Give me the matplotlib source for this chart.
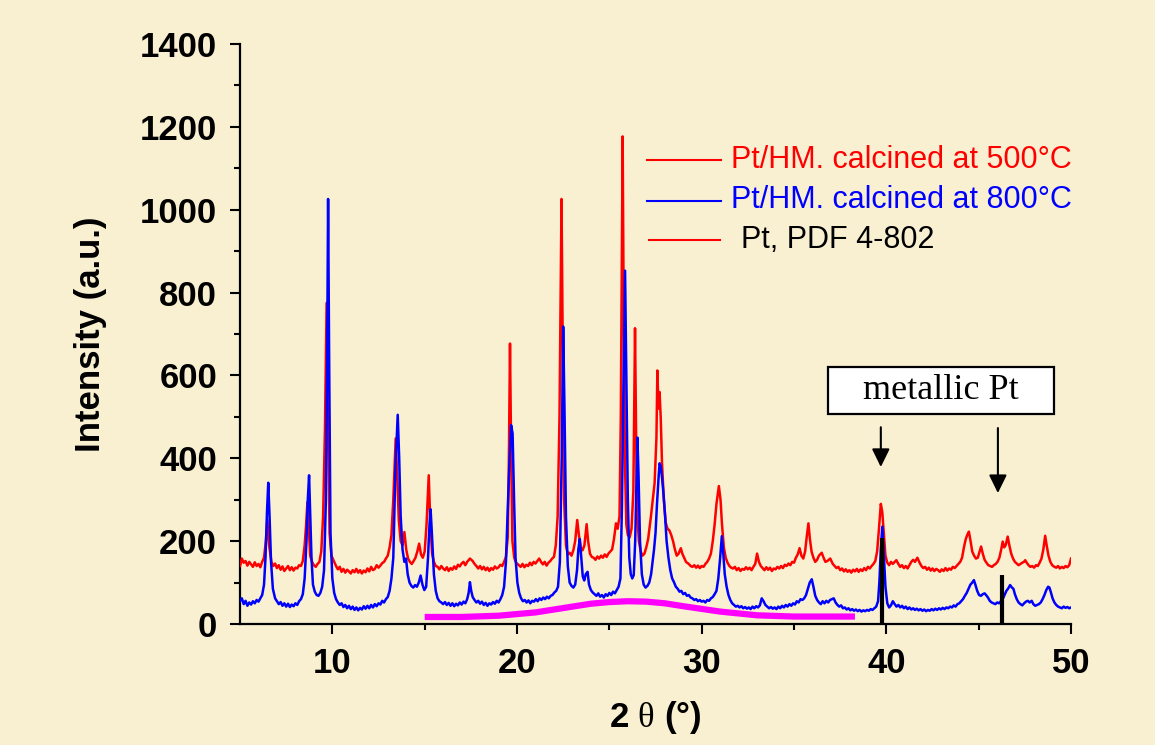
import matplotlib
matplotlib.use("Agg")
import matplotlib.pyplot as plt
from matplotlib.patches import Rectangle

plt.rcParams['font.family'] = ['Liberation Sans', 'DejaVu Sans']
plt.rcParams['mathtext.fontset'] = 'custom'
plt.rcParams['mathtext.rm'] = 'Liberation Serif'

# red pattern: Pt/HM calcined at 500 C, (2theta, intensity)
red_pts = [
    (5.0, 140), (5.1, 158), (5.2, 148), (5.3, 152), (5.4, 141), (5.5, 150), (5.6, 144), (5.7, 138),
    (5.8, 149), (5.9, 140), (6.0, 145), (6.1, 137), (6.2, 150), (6.3, 160), (6.4, 200), (6.48, 251),
    (6.56, 195), (6.7, 150), (6.8, 140), (6.9, 146), (7.0, 135), (7.1, 142), (7.2, 131), (7.3, 139),
    (7.4, 128), (7.5, 134), (7.6, 140), (7.7, 130), (7.8, 137), (7.9, 129), (8.0, 136), (8.1, 134),
    (8.2, 142), (8.3, 140), (8.4, 152), (8.5, 190), (8.58, 240), (8.65, 294), (8.72, 235), (8.8, 165),
    (8.9, 150), (9.0, 142), (9.1, 138), (9.2, 145), (9.3, 150), (9.4, 175), (9.5, 260), (9.6, 470),
    (9.69, 775), (9.76, 480), (9.85, 220), (9.95, 165), (10.1, 150), (10.2, 140), (10.3, 132),
    (10.4, 138), (10.5, 126), (10.6, 133), (10.7, 124), (10.8, 131), (10.9, 127), (11.0, 122),
    (11.1, 130), (11.2, 125), (11.3, 133), (11.4, 124), (11.5, 130), (11.6, 122), (11.7, 129),
    (11.8, 125), (11.9, 134), (12.0, 127), (12.1, 138), (12.2, 130), (12.3, 133), (12.4, 142),
    (12.5, 136), (12.6, 141), (12.7, 147), (12.8, 150), (12.9, 158), (13.0, 165), (13.1, 185),
    (13.2, 215), (13.3, 300), (13.43, 448), (13.52, 350), (13.6, 250), (13.7, 200), (13.8, 190),
    (13.9, 222), (14.0, 180), (14.1, 158), (14.2, 150), (14.3, 145), (14.4, 152), (14.5, 160),
    (14.6, 175), (14.7, 194), (14.8, 168), (14.9, 160), (15.0, 175), (15.1, 240), (15.22, 359),
    (15.3, 250), (15.4, 170), (15.5, 150), (15.6, 140), (15.7, 138), (15.8, 132), (15.9, 140),
    (16.0, 134), (16.1, 130), (16.2, 137), (16.3, 128), (16.4, 135), (16.5, 131), (16.6, 139),
    (16.7, 133), (16.8, 143), (16.9, 139), (17.0, 146), (17.1, 150), (17.2, 142), (17.3, 150),
    (17.45, 158), (17.6, 152), (17.7, 145), (17.8, 140), (17.9, 134), (18.0, 140), (18.1, 132),
    (18.2, 138), (18.3, 130), (18.4, 136), (18.5, 128), (18.6, 135), (18.7, 131), (18.8, 139),
    (18.9, 134), (19.0, 137), (19.1, 143), (19.2, 140), (19.3, 150), (19.4, 162), (19.5, 210),
    (19.56, 400), (19.62, 677), (19.68, 420), (19.75, 200), (19.85, 160), (19.95, 148), (20.1, 142),
    (20.2, 138), (20.3, 145), (20.4, 137), (20.5, 143), (20.6, 140), (20.7, 148), (20.8, 142),
    (20.9, 150), (21.0, 146), (21.1, 152), (21.2, 158), (21.3, 150), (21.4, 144), (21.5, 150),
    (21.6, 141), (21.7, 148), (21.8, 152), (21.9, 158), (22.0, 162), (22.1, 190), (22.2, 260),
    (22.3, 500), (22.36, 800), (22.41, 1026), (22.47, 700), (22.55, 300), (22.65, 190), (22.75, 168),
    (22.85, 172), (22.95, 165), (23.05, 178), (23.15, 200), (23.26, 251), (23.35, 215), (23.45, 185),
    (23.55, 178), (23.65, 190), (23.77, 241), (23.85, 200), (23.95, 170), (24.05, 162), (24.15, 160),
    (24.25, 155), (24.35, 163), (24.45, 158), (24.55, 165), (24.65, 160), (24.75, 168), (24.85, 162),
    (24.95, 170), (25.05, 175), (25.15, 180), (25.25, 205), (25.36, 243), (25.45, 230), (25.55, 260),
    (25.62, 500), (25.68, 900), (25.72, 1177), (25.77, 800), (25.84, 400), (25.92, 240), (26.0, 215),
    (26.1, 209), (26.2, 230), (26.3, 320), (26.39, 714), (26.45, 450), (26.52, 260), (26.6, 200),
    (26.7, 175), (26.8, 165), (26.9, 170), (27.0, 185), (27.1, 205), (27.25, 259), (27.35, 300),
    (27.45, 340), (27.55, 450), (27.6, 612), (27.66, 520), (27.72, 560), (27.78, 500), (27.85, 390),
    (27.95, 300), (28.05, 245), (28.15, 230), (28.25, 226), (28.35, 215), (28.45, 200), (28.55, 180),
    (28.65, 165), (28.75, 170), (28.87, 183), (28.95, 170), (29.05, 160), (29.15, 150), (29.3, 145),
    (29.4, 140), (29.5, 138), (29.6, 142), (29.7, 136), (29.8, 141), (29.9, 135), (30.0, 140),
    (30.1, 138), (30.2, 145), (30.3, 150), (30.4, 158), (30.5, 170), (30.6, 200), (30.7, 240),
    (30.8, 290), (30.93, 333), (31.02, 300), (31.1, 240), (31.2, 185), (31.3, 160), (31.4, 148),
    (31.5, 140), (31.6, 136), (31.7, 134), (31.8, 138), (31.9, 130), (32.0, 135), (32.1, 128),
    (32.2, 133), (32.3, 131), (32.4, 137), (32.5, 132), (32.6, 136), (32.7, 130), (32.8, 138),
    (32.9, 145), (33.0, 170), (33.1, 150), (33.2, 140), (33.3, 135), (33.4, 130), (33.5, 137),
    (33.6, 131), (33.7, 136), (33.8, 128), (33.9, 134), (34.0, 132), (34.1, 138), (34.2, 134),
    (34.3, 140), (34.4, 135), (34.5, 143), (34.6, 140), (34.7, 146), (34.8, 142), (34.9, 150),
    (35.0, 148), (35.1, 160), (35.2, 168), (35.3, 183), (35.4, 165), (35.5, 158), (35.6, 175),
    (35.7, 215), (35.78, 243), (35.86, 205), (35.95, 175), (36.05, 160), (36.15, 150), (36.25, 155),
    (36.35, 165), (36.5, 172), (36.6, 160), (36.7, 150), (36.8, 152), (36.96, 158), (37.1, 145),
    (37.2, 140), (37.3, 135), (37.4, 138), (37.5, 130), (37.6, 134), (37.7, 127), (37.8, 132),
    (37.9, 126), (38.0, 130), (38.1, 124), (38.2, 131), (38.3, 127), (38.4, 133), (38.5, 126),
    (38.6, 132), (38.7, 128), (38.8, 135), (38.9, 130), (39.0, 138), (39.1, 134), (39.2, 140),
    (39.3, 145), (39.4, 152), (39.5, 175), (39.6, 230), (39.7, 290), (39.78, 270), (39.86, 220),
    (39.95, 165), (40.05, 148), (40.15, 142), (40.25, 150), (40.35, 145), (40.45, 150), (40.54, 154),
    (40.65, 145), (40.75, 138), (40.85, 142), (40.95, 135), (41.05, 140), (41.15, 134), (41.25, 142),
    (41.35, 150), (41.45, 155), (41.55, 150), (41.68, 160), (41.8, 148), (41.9, 140), (42.0, 135),
    (42.1, 138), (42.2, 131), (42.3, 136), (42.4, 129), (42.5, 134), (42.6, 128), (42.7, 133),
    (42.8, 130), (42.9, 126), (43.0, 132), (43.1, 128), (43.2, 135), (43.3, 129), (43.4, 134),
    (43.5, 131), (43.6, 138), (43.7, 135), (43.8, 140), (43.9, 145), (44.0, 150), (44.1, 160),
    (44.2, 185), (44.3, 205), (44.38, 215), (44.47, 223), (44.56, 200), (44.65, 175), (44.75, 165),
    (44.85, 158), (44.95, 160), (45.05, 175), (45.13, 187), (45.22, 170), (45.32, 155), (45.42, 148),
    (45.52, 142), (45.62, 140), (45.72, 138), (45.82, 142), (45.92, 145), (46.02, 150), (46.12, 160),
    (46.22, 180), (46.3, 199), (46.38, 185), (46.46, 190), (46.57, 211), (46.66, 190), (46.76, 170),
    (46.86, 158), (46.96, 150), (47.06, 146), (47.16, 142), (47.26, 145), (47.36, 148), (47.45, 150),
    (47.52, 154), (47.6, 148), (47.7, 142), (47.8, 138), (47.9, 140), (48.0, 136), (48.1, 142),
    (48.2, 140), (48.3, 148), (48.4, 158), (48.5, 180), (48.6, 213), (48.68, 190), (48.78, 165),
    (48.88, 150), (48.98, 142), (49.1, 138), (49.2, 136), (49.3, 140), (49.4, 134), (49.5, 138),
    (49.6, 135), (49.7, 140), (49.8, 137), (49.9, 142), (50.0, 158),
]

# blue pattern: Pt/HM calcined at 800 C
blue_pts = [
    (5.0, 55), (5.1, 62), (5.2, 48), (5.3, 56), (5.4, 44), (5.5, 52), (5.6, 47), (5.7, 55), (5.8, 50),
    (5.9, 58), (6.0, 54), (6.1, 62), (6.2, 70), (6.3, 95), (6.38, 160), (6.46, 270), (6.53, 341),
    (6.6, 260), (6.68, 150), (6.78, 85), (6.9, 62), (7.0, 55), (7.1, 48), (7.2, 53), (7.3, 44),
    (7.4, 50), (7.5, 42), (7.6, 49), (7.7, 41), (7.8, 47), (7.9, 43), (8.0, 50), (8.1, 46), (8.2, 55),
    (8.3, 60), (8.4, 72), (8.5, 110), (8.6, 200), (8.67, 300), (8.74, 359), (8.8, 270), (8.87, 160),
    (8.95, 95), (9.05, 78), (9.15, 70), (9.25, 68), (9.35, 75), (9.45, 90), (9.55, 130), (9.65, 300),
    (9.72, 650), (9.77, 1026), (9.83, 620), (9.9, 220), (10.0, 110), (10.1, 75), (10.2, 60),
    (10.3, 52), (10.4, 46), (10.5, 50), (10.6, 41), (10.7, 46), (10.8, 38), (10.9, 44), (11.0, 36),
    (11.1, 42), (11.2, 34), (11.3, 40), (11.4, 33), (11.5, 39), (11.6, 35), (11.7, 43), (11.8, 37),
    (11.9, 44), (12.0, 38), (12.1, 46), (12.2, 40), (12.3, 48), (12.4, 43), (12.5, 50), (12.6, 47),
    (12.7, 56), (12.8, 52), (12.9, 60), (13.0, 65), (13.1, 80), (13.2, 110), (13.3, 160),
    (13.42, 380), (13.54, 505), (13.62, 400), (13.7, 260), (13.8, 180), (13.9, 150), (13.99, 158),
    (14.08, 120), (14.18, 100), (14.28, 92), (14.38, 88), (14.48, 94), (14.58, 90), (14.68, 100),
    (14.78, 117), (14.88, 95), (14.98, 82), (15.08, 90), (15.18, 160), (15.26, 240), (15.32, 277),
    (15.4, 210), (15.5, 120), (15.6, 80), (15.7, 62), (15.8, 55), (15.9, 52), (16.0, 48), (16.1, 53),
    (16.2, 46), (16.3, 51), (16.4, 44), (16.5, 50), (16.6, 43), (16.7, 49), (16.8, 45), (16.9, 52),
    (17.0, 47), (17.1, 54), (17.2, 50), (17.3, 60), (17.38, 75), (17.45, 101), (17.52, 80),
    (17.6, 65), (17.7, 58), (17.8, 52), (17.9, 56), (18.0, 49), (18.1, 54), (18.2, 46), (18.3, 51),
    (18.4, 44), (18.5, 50), (18.6, 47), (18.7, 53), (18.8, 49), (18.9, 56), (19.0, 52), (19.1, 60),
    (19.2, 70), (19.3, 90), (19.4, 150), (19.5, 280), (19.6, 400), (19.68, 480), (19.76, 460),
    (19.84, 300), (19.92, 160), (20.02, 100), (20.12, 75), (20.22, 62), (20.32, 55), (20.42, 58),
    (20.52, 52), (20.62, 57), (20.72, 50), (20.82, 56), (20.92, 54), (21.02, 60), (21.12, 55),
    (21.22, 62), (21.32, 58), (21.42, 64), (21.52, 60), (21.62, 66), (21.72, 62), (21.82, 68),
    (21.92, 70), (22.02, 76), (22.12, 80), (22.22, 90), (22.32, 150), (22.42, 400), (22.5, 718),
    (22.57, 520), (22.65, 260), (22.75, 140), (22.85, 100), (22.95, 92), (23.05, 88), (23.15, 95),
    (23.25, 130), (23.32, 180), (23.4, 205), (23.48, 160), (23.56, 115), (23.64, 105), (23.72, 120),
    (23.82, 126), (23.9, 95), (24.0, 82), (24.1, 76), (24.2, 72), (24.3, 68), (24.4, 74), (24.5, 66),
    (24.6, 70), (24.7, 64), (24.8, 72), (24.9, 68), (25.0, 75), (25.1, 70), (25.2, 78), (25.3, 74),
    (25.4, 82), (25.5, 90), (25.6, 110), (25.68, 280), (25.76, 560), (25.85, 853), (25.92, 600),
    (26.0, 300), (26.08, 160), (26.16, 120), (26.24, 110), (26.32, 118), (26.4, 200), (26.46, 330),
    (26.52, 450), (26.58, 360), (26.66, 200), (26.76, 120), (26.86, 95), (26.96, 88), (27.06, 92),
    (27.16, 100), (27.26, 120), (27.34, 150), (27.42, 180), (27.5, 220), (27.58, 290), (27.66, 350),
    (27.72, 388), (27.79, 380), (27.86, 350), (27.94, 310), (28.02, 260), (28.1, 200), (28.2, 160),
    (28.3, 130), (28.4, 110), (28.5, 101), (28.6, 90), (28.7, 85), (28.8, 78), (28.9, 80), (29.0, 72),
    (29.1, 75), (29.2, 68), (29.3, 70), (29.4, 64), (29.5, 62), (29.6, 58), (29.7, 60), (29.8, 55),
    (29.9, 58), (30.0, 54), (30.1, 56), (30.2, 52), (30.3, 58), (30.4, 56), (30.5, 62), (30.6, 65),
    (30.7, 72), (30.8, 80), (30.9, 110), (31.0, 160), (31.09, 212), (31.17, 170), (31.25, 120),
    (31.35, 90), (31.45, 70), (31.55, 58), (31.65, 50), (31.75, 46), (31.85, 42), (31.95, 44),
    (32.05, 40), (32.15, 43), (32.25, 38), (32.35, 41), (32.45, 37), (32.55, 40), (32.65, 36),
    (32.75, 42), (32.85, 38), (32.95, 43), (33.05, 40), (33.15, 45), (33.25, 62), (33.35, 55),
    (33.45, 46), (33.55, 42), (33.65, 38), (33.75, 41), (33.85, 37), (33.95, 40), (34.05, 36),
    (34.15, 42), (34.25, 38), (34.35, 44), (34.45, 40), (34.55, 46), (34.65, 42), (34.75, 48),
    (34.85, 44), (34.95, 50), (35.05, 47), (35.15, 55), (35.25, 52), (35.35, 60), (35.45, 58),
    (35.55, 62), (35.65, 70), (35.75, 85), (35.85, 100), (35.96, 108), (36.05, 90), (36.15, 68),
    (36.25, 58), (36.35, 52), (36.45, 48), (36.55, 55), (36.65, 50), (36.75, 56), (36.85, 52),
    (36.95, 58), (37.05, 60), (37.15, 62), (37.25, 52), (37.35, 46), (37.45, 42), (37.55, 45),
    (37.65, 38), (37.75, 40), (37.85, 35), (37.95, 38), (38.05, 33), (38.15, 36), (38.25, 32),
    (38.35, 35), (38.45, 31), (38.55, 34), (38.65, 30), (38.75, 33), (38.85, 31), (38.95, 34),
    (39.05, 32), (39.15, 36), (39.25, 34), (39.35, 38), (39.45, 42), (39.55, 55), (39.62, 100),
    (39.7, 180), (39.78, 235), (39.86, 170), (39.95, 90), (40.05, 50), (40.15, 40), (40.25, 45),
    (40.35, 55), (40.45, 48), (40.55, 42), (40.65, 46), (40.75, 40), (40.85, 44), (40.95, 38),
    (41.05, 42), (41.15, 36), (41.25, 40), (41.35, 35), (41.45, 38), (41.55, 34), (41.65, 37),
    (41.75, 33), (41.85, 36), (41.95, 32), (42.05, 35), (42.15, 31), (42.25, 34), (42.35, 32),
    (42.45, 36), (42.55, 33), (42.65, 37), (42.75, 34), (42.85, 38), (42.95, 35), (43.05, 39),
    (43.15, 36), (43.25, 40), (43.35, 38), (43.45, 42), (43.55, 40), (43.65, 45), (43.75, 42),
    (43.85, 48), (43.95, 50), (44.05, 55), (44.15, 60), (44.25, 68), (44.35, 75), (44.45, 85),
    (44.55, 95), (44.65, 100), (44.74, 106), (44.82, 95), (44.92, 80), (45.02, 70), (45.12, 68),
    (45.22, 72), (45.32, 74), (45.4, 70), (45.5, 64), (45.6, 56), (45.7, 52), (45.8, 50),
    (45.9, 48), (46.0, 52), (46.1, 50), (46.2, 55), (46.3, 60), (46.4, 70), (46.5, 80), (46.6, 86),
    (46.7, 94), (46.8, 88), (46.88, 85), (46.96, 72), (47.06, 60), (47.16, 52), (47.26, 48),
    (47.36, 45), (47.46, 50), (47.56, 54), (47.66, 56), (47.76, 52), (47.87, 56), (47.96, 48),
    (48.06, 44), (48.16, 46), (48.26, 48), (48.36, 52), (48.46, 60), (48.56, 70), (48.66, 82),
    (48.76, 90), (48.83, 88), (48.9, 78), (49.0, 62), (49.1, 52), (49.2, 46), (49.3, 42), (49.4, 40),
    (49.5, 38), (49.6, 42), (49.7, 39), (49.8, 41), (49.9, 38), (50.0, 40),
]

# amorphous hump
hump_x = [15, 17, 19, 21, 23, 24, 25, 26, 27, 28, 29, 31, 33, 35, 38.3]
hump_y = [17, 17, 20, 28, 42, 49, 53, 55, 54, 50, 43, 30, 21, 18, 18]

# Pt, PDF 4-802 reference lines
pt_pos = [39.76, 46.24]
pt_int = [207, 118]

red_x, red_y = zip(*red_pts)
blue_x, blue_y = zip(*blue_pts)

bg = '#F9F0D2'
fig = plt.figure(figsize=(11.55, 7.45), dpi=100, facecolor=bg)
ax = fig.add_axes([0.2078, 0.1624, 0.7195, 0.7785], facecolor=bg)

ax.plot(red_x, red_y, color='#FF0000', lw=1.8, zorder=3)
ax.plot(blue_x, blue_y, color='#0000FF', lw=1.8, zorder=4)
ax.plot(hump_x, hump_y, color='#FF00FF', lw=4.5, zorder=2, solid_capstyle='butt')
ax.vlines(pt_pos, 0, pt_int, color='k', lw=3, zorder=5)

ax.set_xlim(5, 50)
ax.set_ylim(0, 1400)
ax.set_xticks([10, 20, 30, 40, 50])
ax.set_xticks([15, 25, 35, 45], minor=True)
ax.set_yticks(range(0, 1401, 200))
ax.set_yticks(range(100, 1400, 200), minor=True)

for s in ['top', 'right']:
    ax.spines[s].set_visible(False)
for s in ['left', 'bottom']:
    ax.spines[s].set_linewidth(1.6)

ax.tick_params(which='major', direction='out', length=7.5, width=1.5, pad=9, labelsize=25)
ax.tick_params(which='minor', direction='out', length=4, width=1.5)
for lab in ax.get_xticklabels() + ax.get_yticklabels():
    lab.set_fontweight('bold')

ax.set_ylabel('Intensity (a.u.)', fontsize=25, fontweight='bold', labelpad=24)
ax.set_xlabel(r'2 $\mathrm{\theta}$ (°)', fontsize=25, fontweight='bold', labelpad=14)

# legend drawn by hand
ax.plot([0.4898, 0.5788], [0.800, 0.800], color='#FF0000', lw=1.5, transform=ax.transAxes, clip_on=False)
ax.plot([0.4898, 0.5788], [0.7293, 0.7293], color='#0000FF', lw=1.5, transform=ax.transAxes, clip_on=False)
ax.plot([0.4922, 0.5776], [0.662, 0.662], color='#FF0000', lw=1.5, transform=ax.transAxes, clip_on=False)
ax.text(0.5909, 0.800, 'Pt/HM. calcined at 500°C', color='#FF0000', fontsize=22,
        transform=ax.transAxes, va='center', ha='left')
ax.text(0.5909, 0.731, 'Pt/HM. calcined at 800°C', color='#0000FF', fontsize=22,
        transform=ax.transAxes, va='center', ha='left')
ax.text(0.603, 0.662, 'Pt, PDF 4-802', color='k', fontsize=22,
        transform=ax.transAxes, va='center', ha='left')

# metallic Pt box and arrows
ax.add_patch(Rectangle((0.7076, 0.3621), 0.2719, 0.081, transform=ax.transAxes,
                       facecolor='white', edgecolor='k', lw=1.6, zorder=6))
ax.text(0.8435, 0.4026, 'metallic Pt', family='Liberation Serif', fontsize=26,
        transform=ax.transAxes, ha='center', va='center', zorder=7)
arrow = dict(arrowstyle='-|>,head_length=0.55,head_width=0.27', color='k', lw=1.5,
             shrinkA=0, shrinkB=0, mutation_scale=20)
ax.annotate('', xy=(39.70, 379), xytext=(39.70, 475), arrowprops=arrow)
ax.annotate('', xy=(46.04, 316), xytext=(46.04, 473), arrowprops=arrow)

fig.savefig('out.png', dpi=100, facecolor=bg)
